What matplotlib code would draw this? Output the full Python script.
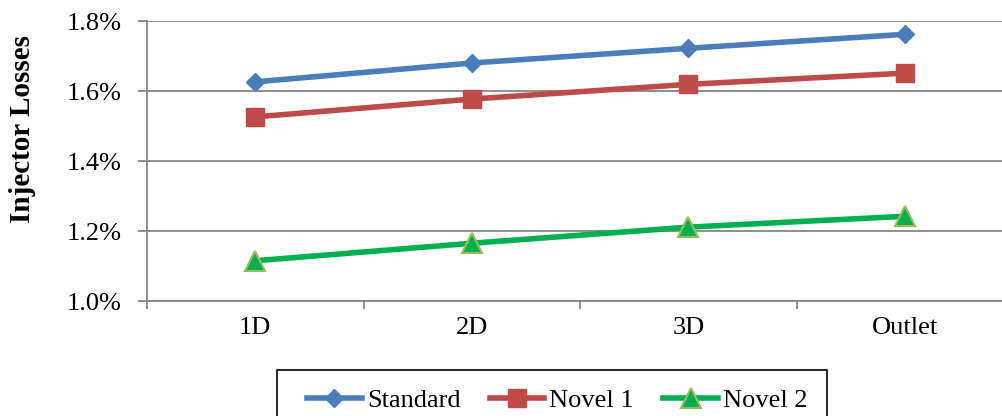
import matplotlib
matplotlib.use("Agg")
import matplotlib.pyplot as plt
from matplotlib.ticker import FixedLocator, FuncFormatter
from matplotlib.patches import Rectangle

categories = ["1D", "2D", "3D", "Outlet"]
standard = [1.626, 1.680, 1.722, 1.762]
novel1 = [1.526, 1.577, 1.619, 1.651]
novel2 = [1.115, 1.165, 1.211, 1.242]
series_names = ["Standard", "Novel 1", "Novel 2"]
yticks = [1.0, 1.2, 1.4, 1.6, 1.8]

plt.rcParams['font.family'] = ['Liberation Serif', 'DejaVu Serif']

fig = plt.figure(figsize=(10.03, 4.16), dpi=100)
W, H = 1003, 416
ax = fig.add_axes([147 / W, (H - 301) / H, 866 / W, 280 / H])

x = list(range(len(categories)))
ax.plot(x, standard, color="#4A7EBB", lw=4, marker="D", ms=9.5,
        mfc="#4A7EBB", mec="#4A7EBB", label=series_names[0], zorder=3)
ax.plot(x, novel1, color="#BE4B48", lw=4, marker="s", ms=13,
        mfc="#BE4B48", mec="#BE4B48", label=series_names[1], zorder=3)
ax.plot(x, novel2, color="#00B050", lw=4, marker="^", ms=14,
        mfc="#00B050", mec="#9BBB59", mew=1.5, label=series_names[2], zorder=3)

ax.set_xlim(-0.5, len(categories) - 0.5)
ax.set_ylim(1.0, 1.8)
ax.set_yticks(yticks)
ax.yaxis.set_major_formatter(FuncFormatter(lambda v, p: f"{v:.1f}%"))
ax.set_xticks(x)
ax.set_xticklabels(categories)
ax.xaxis.set_minor_locator(FixedLocator([i + 0.5 for i in range(-1, len(categories))]))

gray = "#868686"
ax.grid(axis="y", color=gray, lw=1.3, zorder=0)
ax.set_axisbelow(True)
for s in ["top", "right"]:
    ax.spines[s].set_visible(False)
for s in ["left", "bottom"]:
    ax.spines[s].set_color(gray)
    ax.spines[s].set_linewidth(1.3)

ax.tick_params(axis="y", which="major", direction="out", length=6.5, width=1.3,
               color=gray, labelsize=19, pad=11.5)
ax.tick_params(axis="x", which="major", length=0, labelsize=19, pad=11.5)
ax.tick_params(axis="x", which="minor", direction="out", length=6, width=1.3, color=gray)

fig.text(23 / W, 1 - 129 / H, "Injector Losses", rotation=90, ha="center",
         va="center", fontsize=21, fontweight="bold")

# legend frame (extends below the figure edge like the reference)
fig.patches.append(Rectangle((277 / W, -20 / H), (827 - 277) / W, (H - 370 + 20) / H,
                             transform=fig.transFigure, fill=False,
                             edgecolor="black", lw=1.2))
leg = fig.legend(loc="center left", bbox_to_anchor=(307 / W, 1 - 400 / H), ncol=3,
                 fontsize=19, frameon=False,
                 handlelength=2.08, handletextpad=0.19, columnspacing=1.1,
                 borderpad=0, borderaxespad=0)

fig.savefig("out.png", dpi=100)
